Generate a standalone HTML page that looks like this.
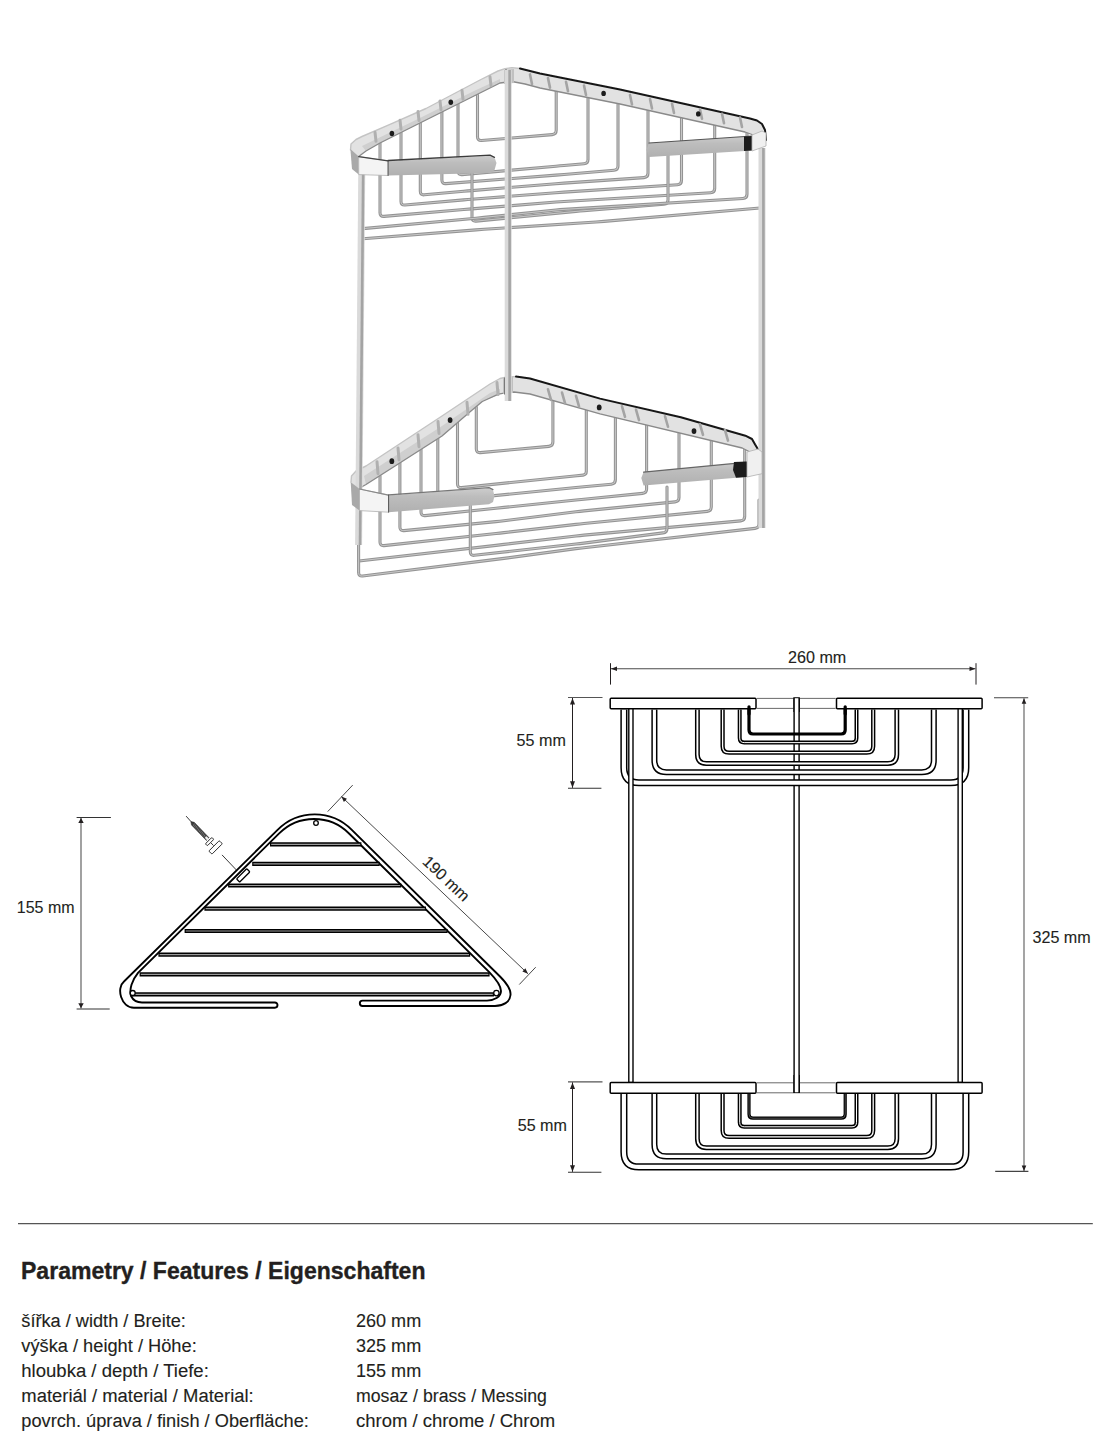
<!DOCTYPE html>
<html><head><meta charset="utf-8"><style>
html,body{margin:0;padding:0;background:#fff;}
svg{display:block;}
text{font-family:"Liberation Sans",sans-serif;fill:#231f20;stroke:#231f20;stroke-width:0.12px;}
text.b{stroke-width:0.35px;}
</style></head><body>
<svg width="1114" height="1444" viewBox="0 0 1114 1444">
<rect width="1114" height="1444" fill="#fff"/>
<defs><filter id="soft" x="-5%" y="-5%" width="110%" height="110%"><feGaussianBlur stdDeviation="0.55"/></filter></defs>
<g id="photo" filter="url(#soft)">
<defs><linearGradient id="barg" x1="0" y1="0" x2="0" y2="1"><stop offset="0" stop-color="#cdcdcd"/><stop offset="0.35" stop-color="#bdbdbd"/><stop offset="1" stop-color="#b0b0b0"/></linearGradient></defs>
<path d="M380,143 L380.0,212.7 Q380,216.7 384.0,216.4 L463.7,209.5 Q467.7,209.2 471.7,208.9 L556.0,202.0 Q560,201.7 564.0,201.5 L710.7,192.8 Q714.7,192.6 714.7,188.6 L714.7,124.7" fill="none" stroke="#949494" stroke-width="3.1" stroke-linecap="round" stroke-linejoin="round"/>
<path d="M380,143 L380.0,212.7 Q380,216.7 384.0,216.4 L463.7,209.5 Q467.7,209.2 471.7,208.9 L556.0,202.0 Q560,201.7 564.0,201.5 L710.7,192.8 Q714.7,192.6 714.7,188.6 L714.7,124.7" fill="none" stroke="#cdcdcd" stroke-width="0.9" stroke-linecap="round" stroke-linejoin="round"/>
<path d="M401,132.5 L401.0,201.4 Q401,205.4 405.0,205.0 L463.7,199.9 Q467.7,199.5 471.7,199.2 L556.0,192.7 Q560,192.4 564.0,192.1 L677.5,184.8 Q681.5,184.5 681.5,180.5 L681.5,117.7" fill="none" stroke="#949494" stroke-width="3.1" stroke-linecap="round" stroke-linejoin="round"/>
<path d="M401,132.5 L401.0,201.4 Q401,205.4 405.0,205.0 L463.7,199.9 Q467.7,199.5 471.7,199.2 L556.0,192.7 Q560,192.4 564.0,192.1 L677.5,184.8 Q681.5,184.5 681.5,180.5 L681.5,117.7" fill="none" stroke="#cdcdcd" stroke-width="0.9" stroke-linecap="round" stroke-linejoin="round"/>
<path d="M420.3,122.9 L420.3,191.2 Q420.3,195.2 424.3,194.8 L463.7,191.3 Q467.7,190.9 471.7,190.6 L556.0,183.7 Q560,183.4 564.0,183.1 L644.0,177.6 Q648,177.3 648.0,173.3 L648,110.7" fill="none" stroke="#949494" stroke-width="3.1" stroke-linecap="round" stroke-linejoin="round"/>
<path d="M420.3,122.9 L420.3,191.2 Q420.3,195.2 424.3,194.8 L463.7,191.3 Q467.7,190.9 471.7,190.6 L556.0,183.7 Q560,183.4 564.0,183.1 L644.0,177.6 Q648,177.3 648.0,173.3 L648,110.7" fill="none" stroke="#cdcdcd" stroke-width="0.9" stroke-linecap="round" stroke-linejoin="round"/>
<path d="M441.9,112 L441.9,179.9 Q441.9,183.9 445.9,183.6 L556.0,175.1 Q560,174.8 564.0,174.5 L614.0,170.3 Q618,170 618.0,166.0 L618,104.4" fill="none" stroke="#949494" stroke-width="3.1" stroke-linecap="round" stroke-linejoin="round"/>
<path d="M441.9,112 L441.9,179.9 Q441.9,183.9 445.9,183.6 L556.0,175.1 Q560,174.8 564.0,174.5 L614.0,170.3 Q618,170 618.0,166.0 L618,104.4" fill="none" stroke="#cdcdcd" stroke-width="0.9" stroke-linecap="round" stroke-linejoin="round"/>
<path d="M458,104 L458.0,171.0 Q458,175 462.0,174.6 L556.0,166.2 Q560,165.8 564.0,165.5 L584.0,163.8 Q588,163.5 588.0,159.5 L588,98" fill="none" stroke="#949494" stroke-width="3.1" stroke-linecap="round" stroke-linejoin="round"/>
<path d="M458,104 L458.0,171.0 Q458,175 462.0,174.6 L556.0,166.2 Q560,165.8 564.0,165.5 L584.0,163.8 Q588,163.5 588.0,159.5 L588,98" fill="none" stroke="#cdcdcd" stroke-width="0.9" stroke-linecap="round" stroke-linejoin="round"/>
<path d="M477.5,95 L477.5,136.8 Q477.5,140.8 481.5,140.5 L552.2,134.6 Q556.2,134.3 556.2,130.3 L556.2,84" fill="none" stroke="#949494" stroke-width="3.1" stroke-linecap="round" stroke-linejoin="round"/>
<path d="M477.5,95 L477.5,136.8 Q477.5,140.8 481.5,140.5 L552.2,134.6 Q556.2,134.3 556.2,130.3 L556.2,84" fill="none" stroke="#cdcdcd" stroke-width="0.9" stroke-linecap="round" stroke-linejoin="round"/>
<path d="M472,170 L472.0,217.5 Q472,221.5 476.0,221.1 L576.0,211.4 Q580,211 584.0,210.7 L664.0,204.3 Q668,204 668.0,200.0 L668,155" fill="none" stroke="#949494" stroke-width="3.1" stroke-linecap="round" stroke-linejoin="round"/>
<path d="M472,170 L472.0,217.5 Q472,221.5 476.0,221.1 L576.0,211.4 Q580,211 584.0,210.7 L664.0,204.3 Q668,204 668.0,200.0 L668,155" fill="none" stroke="#cdcdcd" stroke-width="0.9" stroke-linecap="round" stroke-linejoin="round"/>
<path d="M363,228.6 L476.0,218.2 Q480,217.8 484.0,217.4 L556.0,210.0 Q560,209.6 564.0,209.4 L743.0,198.5 Q747,198.3 747.0,194.3 L747,131.5" fill="none" stroke="#949494" stroke-width="3.1" stroke-linecap="round" stroke-linejoin="round"/>
<path d="M363,228.6 L476.0,218.2 Q480,217.8 484.0,217.4 L556.0,210.0 Q560,209.6 564.0,209.4 L743.0,198.5 Q747,198.3 747.0,194.3 L747,131.5" fill="none" stroke="#cdcdcd" stroke-width="0.9" stroke-linecap="round" stroke-linejoin="round"/>
<path d="M363,238.8 L476.0,229.9 Q480,229.6 484.0,229.3 L596.0,222.0 Q600,221.7 604.0,221.4 L760,208" fill="none" stroke="#949494" stroke-width="3.1" stroke-linecap="round" stroke-linejoin="round"/>
<path d="M363,238.8 L476.0,229.9 Q480,229.6 484.0,229.3 L596.0,222.0 Q600,221.7 604.0,221.4 L760,208" fill="none" stroke="#cdcdcd" stroke-width="0.9" stroke-linecap="round" stroke-linejoin="round"/>
<path d="M476.3,407 L476.3,449.0 Q476.3,453 480.3,452.6 L548.9,446.4 Q552.9,446 552.9,442.0 L552.9,399" fill="none" stroke="#949494" stroke-width="3.1" stroke-linecap="round" stroke-linejoin="round"/>
<path d="M476.3,407 L476.3,449.0 Q476.3,453 480.3,452.6 L548.9,446.4 Q552.9,446 552.9,442.0 L552.9,399" fill="none" stroke="#cdcdcd" stroke-width="0.9" stroke-linecap="round" stroke-linejoin="round"/>
<path d="M457.5,421 L457.5,484.0 Q457.5,488 461.5,487.6 L576.9,475.7 Q580,475.4 583.1,475.1 L583.1,475.1 Q586.3,474.8 586.3,471.6 L586.3,410.6" fill="none" stroke="#949494" stroke-width="3.1" stroke-linecap="round" stroke-linejoin="round"/>
<path d="M457.5,421 L457.5,484.0 Q457.5,488 461.5,487.6 L576.9,475.7 Q580,475.4 583.1,475.1 L583.1,475.1 Q586.3,474.8 586.3,471.6 L586.3,410.6" fill="none" stroke="#cdcdcd" stroke-width="0.9" stroke-linecap="round" stroke-linejoin="round"/>
<path d="M437.8,435 L437.8,497.3 Q437.8,501.3 441.8,500.9 L576.0,487.5 Q580,487.1 584.0,486.7 L611.4,484.2 Q615.4,483.8 615.4,479.8 L615.4,417.6" fill="none" stroke="#949494" stroke-width="3.1" stroke-linecap="round" stroke-linejoin="round"/>
<path d="M437.8,435 L437.8,497.3 Q437.8,501.3 441.8,500.9 L576.0,487.5 Q580,487.1 584.0,486.7 L611.4,484.2 Q615.4,483.8 615.4,479.8 L615.4,417.6" fill="none" stroke="#cdcdcd" stroke-width="0.9" stroke-linecap="round" stroke-linejoin="round"/>
<path d="M421,447 L421.0,512.0 Q421,516 425.0,515.6 L496.0,508.2 Q500,507.8 504.0,507.4 L576.0,500.0 Q580,499.6 584.0,499.2 L642.6,493.4 Q646.6,493 646.6,489.0 L646.6,425" fill="none" stroke="#949494" stroke-width="3.1" stroke-linecap="round" stroke-linejoin="round"/>
<path d="M421,447 L421.0,512.0 Q421,516 425.0,515.6 L496.0,508.2 Q500,507.8 504.0,507.4 L576.0,500.0 Q580,499.6 584.0,499.2 L642.6,493.4 Q646.6,493 646.6,489.0 L646.6,425" fill="none" stroke="#cdcdcd" stroke-width="0.9" stroke-linecap="round" stroke-linejoin="round"/>
<path d="M399.9,462 L399.9,527.0 Q399.9,531 403.9,530.6 L496.0,521.6 Q500,521.2 504.0,520.7 L576.0,511.8 Q580,511.3 584.0,510.9 L675.0,501.9 Q679,501.5 679.0,497.5 L679,432.8" fill="none" stroke="#949494" stroke-width="3.1" stroke-linecap="round" stroke-linejoin="round"/>
<path d="M399.9,462 L399.9,527.0 Q399.9,531 403.9,530.6 L496.0,521.6 Q500,521.2 504.0,520.7 L576.0,511.8 Q580,511.3 584.0,510.9 L675.0,501.9 Q679,501.5 679.0,497.5 L679,432.8" fill="none" stroke="#cdcdcd" stroke-width="0.9" stroke-linecap="round" stroke-linejoin="round"/>
<path d="M380,476 L380.0,542.0 Q380,546 384.0,545.6 L496.0,533.5 Q500,533.1 504.0,532.6 L576.0,524.4 Q580,523.9 584.0,523.5 L707.3,511.4 Q711.3,511 711.3,507.0 L711.3,440.6" fill="none" stroke="#949494" stroke-width="3.1" stroke-linecap="round" stroke-linejoin="round"/>
<path d="M380,476 L380.0,542.0 Q380,546 384.0,545.6 L496.0,533.5 Q500,533.1 504.0,532.6 L576.0,524.4 Q580,523.9 584.0,523.5 L707.3,511.4 Q711.3,511 711.3,507.0 L711.3,440.6" fill="none" stroke="#cdcdcd" stroke-width="0.9" stroke-linecap="round" stroke-linejoin="round"/>
<path d="M359,561 L496.0,545.4 Q500,544.9 504.0,544.4 L576.0,536.0 Q580,535.5 584.0,535.1 L740.7,520.9 Q744.7,520.5 744.7,516.5 L744.7,448.6" fill="none" stroke="#949494" stroke-width="3.1" stroke-linecap="round" stroke-linejoin="round"/>
<path d="M359,561 L496.0,545.4 Q500,544.9 504.0,544.4 L576.0,536.0 Q580,535.5 584.0,535.1 L740.7,520.9 Q744.7,520.5 744.7,516.5 L744.7,448.6" fill="none" stroke="#cdcdcd" stroke-width="0.9" stroke-linecap="round" stroke-linejoin="round"/>
<path d="M470.3,505 L470.3,551.7 Q470.3,555.7 474.3,555.3 L576.0,544.0 Q580,543.6 584.0,543.1 L663.0,532.9 Q667,532.4 667.0,528.4 L667,487" fill="none" stroke="#949494" stroke-width="3.1" stroke-linecap="round" stroke-linejoin="round"/>
<path d="M470.3,505 L470.3,551.7 Q470.3,555.7 474.3,555.3 L576.0,544.0 Q580,543.6 584.0,543.1 L663.0,532.9 Q667,532.4 667.0,528.4 L667,487" fill="none" stroke="#cdcdcd" stroke-width="0.9" stroke-linecap="round" stroke-linejoin="round"/>
<path d="M358.6,540 L358.6,572.5 Q358.6,576.5 362.6,576.0 L496.0,559.4 Q500,558.9 504.0,558.4 L576.0,548.6 Q580,548.1 584.0,547.7 L755.0,528.4 Q759,528 759.0,524.0 L759,500" fill="none" stroke="#949494" stroke-width="3.1" stroke-linecap="round" stroke-linejoin="round"/>
<path d="M358.6,540 L358.6,572.5 Q358.6,576.5 362.6,576.0 L496.0,559.4 Q500,558.9 504.0,558.4 L576.0,548.6 Q580,548.1 584.0,547.7 L755.0,528.4 Q759,528 759.0,524.0 L759,500" fill="none" stroke="#cdcdcd" stroke-width="0.9" stroke-linecap="round" stroke-linejoin="round"/>
<polygon points="350.5,150 351,144 356,139.5 362,136.5 390,124.3 426,108.5 480,80 498,71 505,68.6 512,67.6 520,68.5 540,73.5 620,89.5 750,118.5 757,120.5 762,124 765,130 766,140 756,142 752,134.5 745,132 620,104 540,88 525,84 512,81.5 500,83 474,96 420,123 380,143 366,151 358,157" fill="#e2e2e2" stroke="none" stroke-width="1" stroke-linejoin="round"/>
<polygon points="362,146 420,118 474,91 500,79 500,83 474,96 420,123 380,143 366,151" fill="#cfcfcf" stroke="none" stroke-width="1" stroke-linejoin="round"/>
<path d="M350.5,150 L351,144 L356,139.5 L362,136.5 L390,124.3 L426,108.5 L480,80 L498,71 L505,68.6 L512,67.6 L520,68.5" fill="none" stroke="#c4c4c4" stroke-width="1.4" stroke-linecap="round" stroke-linejoin="round"/>
<path d="M520,68.5 L540,73.5 L620,89.5 L750,118.5 L757,120.5 L762,124 L765,130 L766,140" fill="none" stroke="#161616" stroke-width="2.0" stroke-linecap="round" stroke-linejoin="round"/>
<path d="M756,142 L752,134.5 L745,132 L620,104 L540,88 L525,84 L512,81.5 L500,83 L474,96 L420,123 L380,143 L366,151 L358,157" fill="none" stroke="#8a8a8a" stroke-width="1.3" stroke-linecap="round" stroke-linejoin="round"/>
<path d="M530,74.4215 L532,83.9215" fill="none" stroke="#a4a4a4" stroke-width="2.6" stroke-linecap="round" stroke-linejoin="round"/>
<path d="M548,78.11149999999999 L550,87.61149999999999" fill="none" stroke="#a4a4a4" stroke-width="2.6" stroke-linecap="round" stroke-linejoin="round"/>
<path d="M566,81.80149999999999 L568,91.30149999999999" fill="none" stroke="#a4a4a4" stroke-width="2.6" stroke-linecap="round" stroke-linejoin="round"/>
<path d="M584,85.4915 L586,94.9915" fill="none" stroke="#a4a4a4" stroke-width="2.6" stroke-linecap="round" stroke-linejoin="round"/>
<path d="M630,94.9215 L632,104.4215" fill="none" stroke="#a4a4a4" stroke-width="2.6" stroke-linecap="round" stroke-linejoin="round"/>
<path d="M650,99.0215 L652,108.5215" fill="none" stroke="#a4a4a4" stroke-width="2.6" stroke-linecap="round" stroke-linejoin="round"/>
<path d="M672,103.5315 L674,113.0315" fill="none" stroke="#a4a4a4" stroke-width="2.6" stroke-linecap="round" stroke-linejoin="round"/>
<path d="M700,109.2715 L702,118.7715" fill="none" stroke="#a4a4a4" stroke-width="2.6" stroke-linecap="round" stroke-linejoin="round"/>
<path d="M722,113.7815 L724,123.2815" fill="none" stroke="#a4a4a4" stroke-width="2.6" stroke-linecap="round" stroke-linejoin="round"/>
<path d="M740,117.47149999999999 L742,126.97149999999999" fill="none" stroke="#a4a4a4" stroke-width="2.6" stroke-linecap="round" stroke-linejoin="round"/>
<path d="M375,132.234 L376,141.234" fill="none" stroke="#b0b0b0" stroke-width="3.0" stroke-linecap="round" stroke-linejoin="round"/>
<path d="M400,120.184 L401,129.184" fill="none" stroke="#b0b0b0" stroke-width="3.0" stroke-linecap="round" stroke-linejoin="round"/>
<path d="M418,111.50800000000001 L419,120.50800000000001" fill="none" stroke="#b0b0b0" stroke-width="3.0" stroke-linecap="round" stroke-linejoin="round"/>
<path d="M440,100.904 L441,109.904" fill="none" stroke="#b0b0b0" stroke-width="3.0" stroke-linecap="round" stroke-linejoin="round"/>
<path d="M462,90.30000000000001 L463,99.30000000000001" fill="none" stroke="#b0b0b0" stroke-width="3.0" stroke-linecap="round" stroke-linejoin="round"/>
<path d="M490,76.804 L491,85.804" fill="none" stroke="#b0b0b0" stroke-width="3.0" stroke-linecap="round" stroke-linejoin="round"/>
<ellipse cx="391.9" cy="133.5" rx="2.3" ry="2.7" fill="#1c1c1c"/>
<ellipse cx="450.8" cy="102.3" rx="2.3" ry="2.7" fill="#1c1c1c"/>
<ellipse cx="603.6" cy="93.4" rx="2.3" ry="2.7" fill="#1c1c1c"/>
<ellipse cx="698.3" cy="113.9" rx="2.3" ry="2.7" fill="#1c1c1c"/>
<polygon points="504,70 514,69 514,83 504,84" fill="#c0c0c0" stroke="none" stroke-width="1" stroke-linejoin="round"/>
<path d="M506,70 L506,84" fill="none" stroke="#444" stroke-width="1.5" stroke-linecap="round" stroke-linejoin="round"/>
<polygon points="351,482 351.5,476 356,471 366,466 442,416 490,384 500,378.5 508,376.8 516,376.6 530,378.5 600,398.6 680.8,417.2 745.4,435.7 752,439 755.1,444.6 759,451 750,452 742.2,448 600,413.9 530,394 514,392 506.6,392.6 498.5,394.2 482.3,401.5 471,411 442,436 393.5,467 366,484.5 358,489" fill="#e2e2e2" stroke="none" stroke-width="1" stroke-linejoin="round"/>
<polygon points="364,476 442,426 490,393 500,389 500,394.2 482.3,401.5 471,411 442,436 393.5,467 366,484.5" fill="#cfcfcf" stroke="none" stroke-width="1" stroke-linejoin="round"/>
<path d="M351,482 L351.5,476 L356,471 L366,466 L442,416 L490,384 L500,378.5 L508,376.8 L516,376.6" fill="none" stroke="#c4c4c4" stroke-width="1.4" stroke-linecap="round" stroke-linejoin="round"/>
<path d="M516,376.6 L530,378.5 L600,398.6 L680.8,417.2 L745.4,435.7 L752,439 L755.1,444.6 L759,451" fill="none" stroke="#161616" stroke-width="2.0" stroke-linecap="round" stroke-linejoin="round"/>
<path d="M750,452 L742.2,448 L600,413.9 L530,394 L514,392 L506.6,392.6 L498.5,394.2 L482.3,401.5 L471,411 L442,436 L393.5,467 L366,484.5 L358,489" fill="none" stroke="#8a8a8a" stroke-width="1.3" stroke-linecap="round" stroke-linejoin="round"/>
<path d="M548,389.34 L551,399.84" fill="none" stroke="#a4a4a4" stroke-width="2.6" stroke-linecap="round" stroke-linejoin="round"/>
<path d="M562,392.56 L565,403.06" fill="none" stroke="#a4a4a4" stroke-width="2.6" stroke-linecap="round" stroke-linejoin="round"/>
<path d="M576,395.78 L579,406.28" fill="none" stroke="#a4a4a4" stroke-width="2.6" stroke-linecap="round" stroke-linejoin="round"/>
<path d="M622,406.36 L625,416.86" fill="none" stroke="#a4a4a4" stroke-width="2.6" stroke-linecap="round" stroke-linejoin="round"/>
<path d="M636,409.58 L639,420.08" fill="none" stroke="#a4a4a4" stroke-width="2.6" stroke-linecap="round" stroke-linejoin="round"/>
<path d="M665,416.25 L668,426.75" fill="none" stroke="#a4a4a4" stroke-width="2.6" stroke-linecap="round" stroke-linejoin="round"/>
<path d="M700,424.3 L703,434.8" fill="none" stroke="#a4a4a4" stroke-width="2.6" stroke-linecap="round" stroke-linejoin="round"/>
<path d="M725,430.05 L728,440.55" fill="none" stroke="#a4a4a4" stroke-width="2.6" stroke-linecap="round" stroke-linejoin="round"/>
<path d="M377,461.74 L378,473.74" fill="none" stroke="#b0b0b0" stroke-width="3.0" stroke-linecap="round" stroke-linejoin="round"/>
<path d="M398,447.88 L399,459.88" fill="none" stroke="#b0b0b0" stroke-width="3.0" stroke-linecap="round" stroke-linejoin="round"/>
<path d="M418,434.68 L419,446.68" fill="none" stroke="#b0b0b0" stroke-width="3.0" stroke-linecap="round" stroke-linejoin="round"/>
<path d="M438,421.48 L439,433.48" fill="none" stroke="#b0b0b0" stroke-width="3.0" stroke-linecap="round" stroke-linejoin="round"/>
<path d="M467,402.34000000000003 L468,414.34000000000003" fill="none" stroke="#b0b0b0" stroke-width="3.0" stroke-linecap="round" stroke-linejoin="round"/>
<path d="M497,382.53999999999996 L498,394.53999999999996" fill="none" stroke="#b0b0b0" stroke-width="3.0" stroke-linecap="round" stroke-linejoin="round"/>
<ellipse cx="391.8" cy="461.2" rx="2.4" ry="2.9" fill="#1c1c1c"/>
<ellipse cx="450.1" cy="420.1" rx="2.4" ry="2.9" fill="#1c1c1c"/>
<ellipse cx="599.2" cy="407.4" rx="2.4" ry="2.9" fill="#1c1c1c"/>
<ellipse cx="694" cy="431.1" rx="2.4" ry="2.9" fill="#1c1c1c"/>
<polygon points="503,378 513,377 513,393 503,394" fill="#c0c0c0" stroke="none" stroke-width="1" stroke-linejoin="round"/>
<path d="M505,378 L505,394" fill="none" stroke="#333" stroke-width="1.6" stroke-linecap="round" stroke-linejoin="round"/>
<line x1="508.2" y1="70" x2="508.2" y2="401" stroke="#dadada" stroke-width="7"/>
<line x1="509.59999999999997" y1="70" x2="509.59999999999997" y2="401" stroke="#a4a4a4" stroke-width="2.6"/>
<line x1="361.8" y1="168" x2="358.6" y2="545" stroke="#dadada" stroke-width="7"/>
<line x1="363.2" y1="168" x2="360.0" y2="545" stroke="#a4a4a4" stroke-width="2.6"/>
<line x1="762.0" y1="148" x2="762.0" y2="528" stroke="#dadada" stroke-width="7"/>
<line x1="763.4" y1="148" x2="763.4" y2="528" stroke="#a4a4a4" stroke-width="2.6"/>
<polygon points="350.4,149 358.7,156.6 358.7,174.6 352,169" fill="#a9a9a9" stroke="none" stroke-width="1" stroke-linejoin="round"/>
<polygon points="358.7,156.6 388.1,160.9 388.1,175.5 358.7,174.6" fill="#f4f4f4" stroke="#b0b0b0" stroke-width="0.8" stroke-linejoin="round"/>
<polygon points="388.1,160.9 490,155.5 494.5,157.5 496.5,163 494.5,170 490,173 388.1,175.5" fill="url(#barg)" stroke="none" stroke-width="1" stroke-linejoin="round"/>
<path d="M358.7,156.6 L388.1,160.9" fill="none" stroke="#444" stroke-width="1.2" stroke-linecap="round" stroke-linejoin="round"/>
<path d="M388.1,160.5 L490,155.2 L494.5,157.3" fill="none" stroke="#3a3a3a" stroke-width="1.3" stroke-linecap="round" stroke-linejoin="round"/>
<path d="M388.1,161 L388.1,175.5" fill="none" stroke="#555" stroke-width="1.0" stroke-linecap="round" stroke-linejoin="round"/>
<polygon points="649,143 745,136.5 752,136 752,150.5 745,151 649,157 646.5,150" fill="url(#barg)" stroke="none" stroke-width="1" stroke-linejoin="round"/>
<path d="M649,143 L745,136.5 L752,136" fill="none" stroke="#555" stroke-width="1.2" stroke-linecap="round" stroke-linejoin="round"/>
<polygon points="744,136.5 752,136 752,150.5 744,151" fill="#1e1e1e" stroke="none" stroke-width="1" stroke-linejoin="round"/>
<polygon points="752,135 762,131 766,133 766,146 752,151" fill="#f0f0f0" stroke="#b0b0b0" stroke-width="0.8" stroke-linejoin="round"/>
<polygon points="350.7,482 359.5,489 359.5,510.6 352,505" fill="#a9a9a9" stroke="none" stroke-width="1" stroke-linejoin="round"/>
<polygon points="359.5,489 388.6,495.2 388.6,512.2 359.5,510.6" fill="#f4f4f4" stroke="#b0b0b0" stroke-width="0.8" stroke-linejoin="round"/>
<polygon points="388.6,495.2 489,488 493,490 494.5,496 493,502 489,504.2 388.6,512.2" fill="url(#barg)" stroke="none" stroke-width="1" stroke-linejoin="round"/>
<path d="M359.5,489 L388.6,495.2" fill="none" stroke="#8a8a8a" stroke-width="1.2" stroke-linecap="round" stroke-linejoin="round"/>
<path d="M388.6,494.8 L489,487.6 L493,489.6" fill="none" stroke="#777" stroke-width="1.2" stroke-linecap="round" stroke-linejoin="round"/>
<path d="M388.6,495.2 L388.6,512.2" fill="none" stroke="#555" stroke-width="1.0" stroke-linecap="round" stroke-linejoin="round"/>
<polygon points="643.6,472.1 745.4,462.4 747,462.4 747,477 745.4,477 643.6,485.5 641.3,478" fill="url(#barg)" stroke="none" stroke-width="1" stroke-linejoin="round"/>
<path d="M643.6,472.1 L745.4,462.4" fill="none" stroke="#666" stroke-width="1.2" stroke-linecap="round" stroke-linejoin="round"/>
<polygon points="734,462 747,461.6 747,477 736,477.8 733,470" fill="#1e1e1e" stroke="none" stroke-width="1" stroke-linejoin="round"/>
<polygon points="747,452 758,449 762,452 762,473.7 747,477" fill="#f0f0f0" stroke="#b0b0b0" stroke-width="0.8" stroke-linejoin="round"/>
</g>
<g id="front">
<line x1="796.6" y1="697.5" x2="796.6" y2="1093" stroke="#000" stroke-width="6.4"/>
<line x1="796.6" y1="698.2" x2="796.6" y2="1092.3" stroke="#fff" stroke-width="3.6"/>
<path d="M623.9,709.5 V767.7 Q623.9,782.7 638.9,782.7 H950.9 Q965.9,782.7 965.9,767.7 V709.5" fill="none" stroke="#000" stroke-width="7.10"/>
<path d="M623.9,709.5 V767.7 Q623.9,782.7 638.9,782.7 H950.9 Q965.9,782.7 965.9,767.7 V709.5" fill="none" stroke="#fff" stroke-width="4.10"/>
<path d="M654.4,709.5 V760.2 Q654.4,772.2 666.4,772.2 H921.8 Q933.8,772.2 933.8,760.2 V709.5" fill="none" stroke="#000" stroke-width="6.10"/>
<path d="M654.4,709.5 V760.2 Q654.4,772.2 666.4,772.2 H921.8 Q933.8,772.2 933.8,760.2 V709.5" fill="none" stroke="#fff" stroke-width="3.10"/>
<path d="M697.4,709.5 V754.5 Q697.4,763.5 706.4,763.5 H887.8 Q896.8,763.5 896.8,754.5 V709.5" fill="none" stroke="#000" stroke-width="4.90"/>
<path d="M697.4,709.5 V754.5 Q697.4,763.5 706.4,763.5 H887.8 Q896.8,763.5 896.8,754.5 V709.5" fill="none" stroke="#fff" stroke-width="1.90"/>
<path d="M722.6,709.5 V746.2 Q722.6,752.7 729.1,752.7 H866.7 Q873.2,752.7 873.2,746.2 V709.5" fill="none" stroke="#000" stroke-width="4.30"/>
<path d="M722.6,709.5 V746.2 Q722.6,752.7 729.1,752.7 H866.7 Q873.2,752.7 873.2,746.2 V709.5" fill="none" stroke="#fff" stroke-width="1.30"/>
<path d="M739.7,709.5 V738.1 Q739.7,742.6 744.2,742.6 H852.0 Q856.5,742.6 856.5,738.1 V709.5" fill="none" stroke="#000" stroke-width="4.00"/>
<path d="M739.7,709.5 V738.1 Q739.7,742.6 744.2,742.6 H852.0 Q856.5,742.6 856.5,738.1 V709.5" fill="none" stroke="#fff" stroke-width="1.00"/>
<path d="M749.0,706.8 V730.0 Q749.0,734.0 753.0,734.0 H841.2 Q845.2,734.0 845.2,730.0 V706.8" fill="none" stroke="#000" stroke-width="3.2" stroke-linecap="round"/>
<line x1="630.9" y1="707" x2="630.9" y2="1082.5" stroke="#000" stroke-width="5.6"/>
<line x1="630.9" y1="707.7" x2="630.9" y2="1081.8" stroke="#fff" stroke-width="2.8000000000000003"/>
<line x1="960.2" y1="707" x2="960.2" y2="1082.5" stroke="#000" stroke-width="5.6"/>
<line x1="960.2" y1="707.7" x2="960.2" y2="1081.8" stroke="#fff" stroke-width="2.8000000000000003"/>
<path d="M623.9,1093.7 V1151.9 Q623.9,1166.9 638.9,1166.9 H950.9 Q965.9,1166.9 965.9,1151.9 V1093.7" fill="none" stroke="#000" stroke-width="7.10"/>
<path d="M623.9,1093.7 V1151.9 Q623.9,1166.9 638.9,1166.9 H950.9 Q965.9,1166.9 965.9,1151.9 V1093.7" fill="none" stroke="#fff" stroke-width="4.10"/>
<path d="M654.4,1093.7 V1144.4 Q654.4,1156.4 666.4,1156.4 H921.8 Q933.8,1156.4 933.8,1144.4 V1093.7" fill="none" stroke="#000" stroke-width="6.10"/>
<path d="M654.4,1093.7 V1144.4 Q654.4,1156.4 666.4,1156.4 H921.8 Q933.8,1156.4 933.8,1144.4 V1093.7" fill="none" stroke="#fff" stroke-width="3.10"/>
<path d="M697.4,1093.7 V1138.7 Q697.4,1147.7 706.4,1147.7 H887.8 Q896.8,1147.7 896.8,1138.7 V1093.7" fill="none" stroke="#000" stroke-width="4.90"/>
<path d="M697.4,1093.7 V1138.7 Q697.4,1147.7 706.4,1147.7 H887.8 Q896.8,1147.7 896.8,1138.7 V1093.7" fill="none" stroke="#fff" stroke-width="1.90"/>
<path d="M722.6,1093.7 V1130.4 Q722.6,1136.9 729.1,1136.9 H866.7 Q873.2,1136.9 873.2,1130.4 V1093.7" fill="none" stroke="#000" stroke-width="4.30"/>
<path d="M722.6,1093.7 V1130.4 Q722.6,1136.9 729.1,1136.9 H866.7 Q873.2,1136.9 873.2,1130.4 V1093.7" fill="none" stroke="#fff" stroke-width="1.30"/>
<path d="M739.7,1093.7 V1122.3 Q739.7,1126.8 744.2,1126.8 H852.0 Q856.5,1126.8 856.5,1122.3 V1093.7" fill="none" stroke="#000" stroke-width="4.00"/>
<path d="M739.7,1093.7 V1122.3 Q739.7,1126.8 744.2,1126.8 H852.0 Q856.5,1126.8 856.5,1122.3 V1093.7" fill="none" stroke="#fff" stroke-width="1.00"/>
<path d="M749.0,1093.7 V1114.2 Q749.0,1118.2 753.0,1118.2 H841.2 Q845.2,1118.2 845.2,1114.2 V1093.7" fill="none" stroke="#000" stroke-width="3.20"/>
<path d="M749.0,1093.7 V1114.2 Q749.0,1118.2 753.0,1118.2 H841.2 Q845.2,1118.2 845.2,1114.2 V1093.7" fill="none" stroke="#fff" stroke-width="0.30"/>
<rect x="610.2" y="698.2" width="145.8" height="10.6" rx="1" fill="#fff" stroke="#000" stroke-width="1.5"/>
<rect x="836.5" y="698.2" width="145.6" height="10.6" rx="1" fill="#fff" stroke="#000" stroke-width="1.5"/>
<line x1="757" y1="698.4" x2="835.7" y2="698.4" stroke="#444" stroke-width="0.8"/>
<line x1="757" y1="708.4" x2="835.7" y2="708.4" stroke="#444" stroke-width="0.8"/>
<rect x="610.2" y="1082.6" width="145.8" height="10.6" rx="1" fill="#fff" stroke="#000" stroke-width="1.5"/>
<rect x="836.5" y="1082.6" width="145.6" height="10.6" rx="1" fill="#fff" stroke="#000" stroke-width="1.5"/>
<line x1="757" y1="1082.8" x2="835.7" y2="1082.8" stroke="#444" stroke-width="0.8"/>
<line x1="757" y1="1092.8" x2="835.7" y2="1092.8" stroke="#444" stroke-width="0.8"/>
<line x1="749.0" y1="706.8" x2="749.0" y2="714" stroke="#000" stroke-width="3.2" stroke-linecap="round"/>
<line x1="845.2" y1="706.8" x2="845.2" y2="714" stroke="#000" stroke-width="3.2" stroke-linecap="round"/>
<line x1="796.6" y1="697.5" x2="796.6" y2="712" stroke="#000" stroke-width="6.4"/>
<line x1="796.6" y1="698.2" x2="796.6" y2="712" stroke="#fff" stroke-width="3.6"/>
<line x1="796.6" y1="1075" x2="796.6" y2="1093" stroke="#000" stroke-width="6.4"/>
<line x1="796.6" y1="1075" x2="796.6" y2="1092.3" stroke="#fff" stroke-width="3.6"/>
</g>
<g id="top">
<path d="M274.9,1007.7 H134 C121,1007.7 116,988 124,981.5 L277.6,829.9 A52.1,52.1 0 0 1 351.8,829.9 L500,976.5 C507.5,984 511,990 510.5,995 C510,1002 503,1006 495,1006 H362.5 A2.7,2.7 0 0 1 362.5,1000.6 H487 C494,1000.6 501,997 501,991 C501,986 497,980 489,971.8 L349.3,833.7 A49.5,49.5 0 0 0 278.9,833.7 L138,972.8 C132,980 129,990 131,996 C133,1000 137,1002.5 142,1002.5 H274.9 A2.6,2.6 0 0 1 274.9,1007.7 Z" fill="#fff" fill-rule="evenodd" stroke="#000" stroke-width="1.9"/>
<line x1="270" y1="844.3" x2="361.4" y2="844.3" stroke="#000" stroke-width="4.2"/>
<line x1="271.2" y1="844.3" x2="360.2" y2="844.3" stroke="#9a9a9a" stroke-width="1.2"/>
<line x1="252.2" y1="863.9" x2="379.7" y2="863.9" stroke="#000" stroke-width="4.2"/>
<line x1="253.39999999999998" y1="863.9" x2="378.5" y2="863.9" stroke="#9a9a9a" stroke-width="1.2"/>
<line x1="228.1" y1="885.5" x2="401.3" y2="885.5" stroke="#000" stroke-width="4.2"/>
<line x1="229.29999999999998" y1="885.5" x2="400.1" y2="885.5" stroke="#9a9a9a" stroke-width="1.2"/>
<line x1="204.4" y1="908.7" x2="426" y2="908.7" stroke="#000" stroke-width="4.2"/>
<line x1="205.6" y1="908.7" x2="424.8" y2="908.7" stroke="#9a9a9a" stroke-width="1.2"/>
<line x1="184.6" y1="931" x2="447.6" y2="931" stroke="#000" stroke-width="4.2"/>
<line x1="185.79999999999998" y1="931" x2="446.40000000000003" y2="931" stroke="#9a9a9a" stroke-width="1.2"/>
<line x1="158.4" y1="954.7" x2="470.2" y2="954.7" stroke="#000" stroke-width="4.2"/>
<line x1="159.6" y1="954.7" x2="469.0" y2="954.7" stroke="#9a9a9a" stroke-width="1.2"/>
<line x1="139.6" y1="974.4" x2="489.6" y2="974.4" stroke="#000" stroke-width="4.2"/>
<line x1="140.79999999999998" y1="974.4" x2="488.40000000000003" y2="974.4" stroke="#9a9a9a" stroke-width="1.2"/>
<line x1="131.7" y1="994.4" x2="494" y2="994.4" stroke="#000" stroke-width="4.2"/>
<line x1="132.89999999999998" y1="994.4" x2="492.8" y2="994.4" stroke="#9a9a9a" stroke-width="1.2"/>
<circle cx="316" cy="823" r="2.3" fill="#fff" stroke="#000" stroke-width="1.3"/>
<circle cx="132.7" cy="993" r="2.5" fill="#fff" stroke="#000" stroke-width="1.3"/>
<circle cx="496.4" cy="993.1" r="2.7" fill="#fff" stroke="#000" stroke-width="1.3"/>
<line x1="186.1" y1="816.1" x2="191" y2="821.6" stroke="#222" stroke-width="0.9"/>
<polygon points="190.80,821.50 194.25,822.35 209.13,837.87 206.38,840.50 191.50,824.98" fill="#3a3a3a" stroke="#222" stroke-width="0.5"/>
<line x1="194.43" y1="823.56" x2="193.32" y2="825.87" stroke="#9a9a9a" stroke-width="0.6"/>
<line x1="195.61" y1="824.78" x2="194.50" y2="827.10" stroke="#9a9a9a" stroke-width="0.6"/>
<line x1="196.79" y1="826.01" x2="195.68" y2="828.32" stroke="#9a9a9a" stroke-width="0.6"/>
<line x1="197.96" y1="827.24" x2="196.85" y2="829.55" stroke="#9a9a9a" stroke-width="0.6"/>
<line x1="199.14" y1="828.47" x2="198.03" y2="830.78" stroke="#9a9a9a" stroke-width="0.6"/>
<line x1="200.32" y1="829.69" x2="199.21" y2="832.01" stroke="#9a9a9a" stroke-width="0.6"/>
<line x1="201.49" y1="830.92" x2="200.38" y2="833.23" stroke="#9a9a9a" stroke-width="0.6"/>
<line x1="202.67" y1="832.15" x2="201.56" y2="834.46" stroke="#9a9a9a" stroke-width="0.6"/>
<line x1="203.85" y1="833.38" x2="202.74" y2="835.69" stroke="#9a9a9a" stroke-width="0.6"/>
<line x1="205.02" y1="834.60" x2="203.91" y2="836.91" stroke="#9a9a9a" stroke-width="0.6"/>
<line x1="206.20" y1="835.83" x2="205.09" y2="838.14" stroke="#9a9a9a" stroke-width="0.6"/>
<line x1="207.37" y1="837.06" x2="206.26" y2="839.37" stroke="#9a9a9a" stroke-width="0.6"/>
<rect x="-1.5" y="-1.2" width="3.5" height="2.4" transform="translate(206.72,838.11) rotate(46.2)" fill="#eee"/>
<rect x="-4.6" y="-1.4" width="9.2" height="2.8" rx="1" transform="translate(209.6,841.6) rotate(-45)" fill="#fff" stroke="#222" stroke-width="0.9"/>
<line x1="211" y1="843" x2="213.6" y2="845.6" stroke="#222" stroke-width="0.9"/>
<rect x="-7.4" y="-2.2" width="14.8" height="4.4" rx="1" transform="translate(215.6,847.4) rotate(-45)" fill="#fff" stroke="#222" stroke-width="0.9"/>
<line x1="222" y1="854.9" x2="236.4" y2="870" stroke="#222" stroke-width="0.9"/>
<rect x="-7.2" y="-2.2" width="14.4" height="4.4" rx="0.8" transform="translate(243.2,875.4) rotate(-45)" fill="#fff" stroke="#000" stroke-width="1.3"/>
</g>
<g id="dims">
<line x1="610.5" y1="663.2" x2="610.5" y2="684.6" stroke="#231f20" stroke-width="1"/>
<line x1="976" y1="663.2" x2="976" y2="684.6" stroke="#231f20" stroke-width="1"/>
<line x1="611" y1="668.7" x2="975.5" y2="668.7" stroke="#4a4a4a" stroke-width="1.1"/>
<path d="M611.00,668.70 L617.00,666.50 L617.00,670.90 Z" fill="#231f20"/>
<path d="M975.50,668.70 L969.50,670.90 L969.50,666.50 Z" fill="#231f20"/>
<line x1="568" y1="697.5" x2="602.5" y2="697.5" stroke="#555" stroke-width="1.1"/>
<line x1="568" y1="788.3" x2="601.4" y2="788.3" stroke="#333" stroke-width="1.1"/>
<line x1="572.5" y1="698.0" x2="572.5" y2="787.8" stroke="#231f20" stroke-width="1"/>
<path d="M572.50,698.00 L575.00,704.50 L570.00,704.50 Z" fill="#231f20"/>
<path d="M572.50,787.80 L570.00,781.30 L575.00,781.30 Z" fill="#231f20"/>
<line x1="568" y1="1081.9" x2="602.5" y2="1081.9" stroke="#555" stroke-width="1.1"/>
<line x1="568" y1="1172.3" x2="601.4" y2="1172.3" stroke="#333" stroke-width="1.1"/>
<line x1="572.5" y1="1082.4" x2="572.5" y2="1171.8" stroke="#231f20" stroke-width="1"/>
<path d="M572.50,1082.40 L575.00,1088.90 L570.00,1088.90 Z" fill="#231f20"/>
<path d="M572.50,1171.80 L570.00,1165.30 L575.00,1165.30 Z" fill="#231f20"/>
<line x1="994" y1="697.7" x2="1028.2" y2="697.7" stroke="#444" stroke-width="1.1"/>
<line x1="995.2" y1="1171.4" x2="1028.4" y2="1171.4" stroke="#444" stroke-width="1.1"/>
<line x1="1024" y1="698.2" x2="1024" y2="1171" stroke="#5a5a5a" stroke-width="1.1"/>
<path d="M1024.00,698.30 L1026.30,703.80 L1021.70,703.80 Z" fill="#231f20"/>
<path d="M1024.00,1170.90 L1021.70,1165.40 L1026.30,1165.40 Z" fill="#231f20"/>
<line x1="76.6" y1="817.5" x2="110.9" y2="817.5" stroke="#333" stroke-width="1.1"/>
<line x1="76.6" y1="1009" x2="109.7" y2="1009" stroke="#333" stroke-width="1.2"/>
<line x1="81" y1="818" x2="81" y2="1008.5" stroke="#555" stroke-width="1.1"/>
<path d="M81.00,818.00 L83.70,823.00 L78.30,823.00 Z" fill="#231f20"/>
<path d="M81.00,1008.30 L78.30,1003.30 L83.70,1003.30 Z" fill="#231f20"/>
<line x1="327.7" y1="811.6" x2="352.7" y2="785.1" stroke="#333" stroke-width="0.9"/>
<line x1="519.3" y1="984.5" x2="535.7" y2="967.2" stroke="#333" stroke-width="0.9"/>
<line x1="341.4" y1="796.5" x2="527.9" y2="973.7" stroke="#333" stroke-width="0.9"/>
<path d="M341.40,796.50 L346.90,798.69 L343.87,801.88 Z" fill="#231f20"/>
<path d="M527.90,973.70 L522.40,971.51 L525.43,968.32 Z" fill="#231f20"/>
</g>
<line x1="18" y1="1223.6" x2="1092.8" y2="1223.6" stroke="#555" stroke-width="1.3"/>
<g id="txt">
<text x="788" y="662.9" font-size="16" font-weight="normal" textLength="58.3" lengthAdjust="spacingAndGlyphs">260 mm</text>
<text x="516.6" y="745.7" font-size="16" font-weight="normal" textLength="49.2" lengthAdjust="spacingAndGlyphs">55 mm</text>
<text x="517.7" y="1131" font-size="16" font-weight="normal" textLength="49.2" lengthAdjust="spacingAndGlyphs">55 mm</text>
<text x="1032.5" y="943" font-size="16" font-weight="normal" textLength="58.2" lengthAdjust="spacingAndGlyphs">325 mm</text>
<text x="16.8" y="912.7" font-size="16" font-weight="normal" textLength="57.7" lengthAdjust="spacingAndGlyphs">155 mm</text>
<g transform="translate(446.2,878.6) rotate(43.6)"><text x="0" y="5.5" font-size="16" text-anchor="middle" textLength="57.8" lengthAdjust="spacingAndGlyphs">190 mm</text></g>
<text x="21" y="1278.7" font-size="23" font-weight="bold" textLength="404.5" lengthAdjust="spacingAndGlyphs" class="b">Parametry / Features / Eigenschaften</text>
<text x="21.3" y="1327.1" font-size="18" font-weight="normal" textLength="164.6" lengthAdjust="spacingAndGlyphs">šířka / width / Breite:</text>
<text x="356" y="1327.1" font-size="18" font-weight="normal" textLength="65.2" lengthAdjust="spacingAndGlyphs">260 mm</text>
<text x="21.3" y="1352.05" font-size="18" font-weight="normal" textLength="175.4" lengthAdjust="spacingAndGlyphs">výška / height / Höhe:</text>
<text x="356" y="1352.05" font-size="18" font-weight="normal" textLength="65.2" lengthAdjust="spacingAndGlyphs">325 mm</text>
<text x="21.3" y="1377.0" font-size="18" font-weight="normal" textLength="187.5" lengthAdjust="spacingAndGlyphs">hloubka / depth / Tiefe:</text>
<text x="356" y="1377.0" font-size="18" font-weight="normal" textLength="65.2" lengthAdjust="spacingAndGlyphs">155 mm</text>
<text x="21.3" y="1401.9499999999998" font-size="18" font-weight="normal" textLength="232.4" lengthAdjust="spacingAndGlyphs">materiál / material / Material:</text>
<text x="356" y="1401.9499999999998" font-size="18" font-weight="normal" textLength="190.9" lengthAdjust="spacingAndGlyphs">mosaz / brass / Messing</text>
<text x="21.3" y="1426.8999999999999" font-size="18" font-weight="normal" textLength="287.6" lengthAdjust="spacingAndGlyphs">povrch. úprava / finish / Oberfläche:</text>
<text x="356" y="1426.8999999999999" font-size="18" font-weight="normal" textLength="199.1" lengthAdjust="spacingAndGlyphs">chrom / chrome / Chrom</text>
</g>
</svg>
</body></html>
